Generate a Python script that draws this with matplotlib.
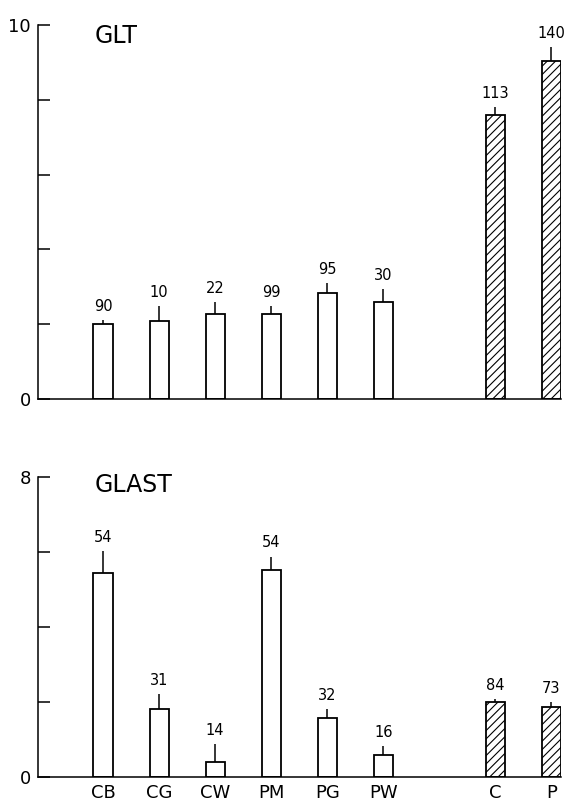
import matplotlib
matplotlib.use("Agg")
import matplotlib.pyplot as plt
import numpy as np

categories = ["CB", "CG", "CW", "PM", "PG", "PW", "C", "P"]
positions = [0, 1, 2, 3, 4, 5, 7, 8]
hatched = [False, False, False, False, False, False, True, True]

glt_values = [2.00, 2.09, 2.28, 2.28, 2.84, 2.59, 7.59, 9.05]
glt_err = [0.11, 0.40, 0.31, 0.21, 0.25, 0.35, 0.21, 0.37]
glt_n = ["90", "10", "22", "99", "95", "30", "113", "140"]

glast_values = [5.44, 1.82, 0.41, 5.51, 1.58, 0.60, 2.01, 1.88]
glast_err = [0.58, 0.39, 0.46, 0.37, 0.24, 0.23, 0.07, 0.13]
glast_n = ["54", "31", "14", "54", "32", "16", "84", "73"]

plt.rcParams['hatch.linewidth'] = 0.8
plt.rcParams['font.family'] = ['DejaVu Sans']

W, H = 565, 801
fig = plt.figure(figsize=(W / 100, H / 100), dpi=100)

def panel(rect, values, errs, ns, ymax, title, title_y, show_xlabels):
    ax = fig.add_axes(rect)
    for x, v, e, n, h in zip(positions, values, errs, ns, hatched):
        ax.bar(x, v, width=0.34, color='white', edgecolor='black', linewidth=1.3,
               hatch='////' if h else None, zorder=2)
        ax.errorbar(x, v, yerr=[[0], [e]], fmt='none', ecolor='black',
                    elinewidth=1.1, capsize=0, zorder=3)
        ax.annotate(n, (x, v + e), xytext=(0, 6.5), textcoords='offset points',
                    ha='center', va='baseline', fontsize=10.5)
    ax.set_xlim(-1.16, 8.17)
    ax.set_ylim(0, ymax)
    ax.spines['top'].set_visible(False)
    ax.spines['right'].set_visible(False)
    ax.spines['left'].set_linewidth(1.1)
    ax.spines['bottom'].set_linewidth(1.1)
    yt = list(range(0, ymax + 1, 2))
    ax.set_yticks(yt)
    ax.set_yticklabels([str(t) if t in (0, ymax) else "" for t in yt], fontsize=13)
    ax.tick_params(axis='y', direction='in', length=8.5, width=1.1, pad=5)
    ax.set_xticks(positions)
    if show_xlabels:
        ax.set_xticklabels(categories, fontsize=13)
    else:
        ax.set_xticklabels([])
    ax.tick_params(axis='x', length=0, pad=5)
    ax.text(0.108, title_y, title, transform=ax.transAxes, fontsize=17,
            ha='left', va='top', clip_on=False)
    return ax

left = 38 / W
width = (561 - 38) / W
panel([left, 1 - 399 / H, width, 374 / H], glt_values, glt_err, glt_n, 10, "GLT", 1.004, False)
panel([left, 1 - 777 / H, width, 300 / H], glast_values, glast_err, glast_n, 8, "GLAST", 1.012, True)

fig.savefig("out.png", dpi=100)
